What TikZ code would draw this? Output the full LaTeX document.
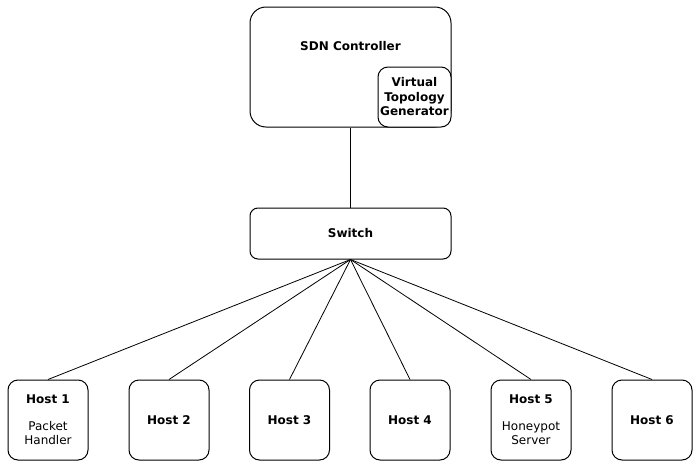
\documentclass[tikz,border=0pt]{standalone}
\usepackage{fontspec}
\setmainfont{DejaVu Sans}
\usetikzlibrary{positioning}

\begin{document}
\begin{tikzpicture}[
  x=1pt,y=-1pt,
  box/.style={draw,line width=1pt,rounded corners=8pt,fill=white,align=center,font=\fontsize{12}{14.5}\selectfont,inner sep=0pt},
  hostbox/.style={box,minimum width=80pt,minimum height=80pt,rounded corners=10pt},
  link/.style={line width=0.8pt}]
  \useasboundingbox (0,0) rectangle (694,461);
  \node[box,minimum width=201pt,minimum height=120pt,rounded corners=16pt] (ctrl) at (350.5,67) {};
  \node[font=\fontsize{12}{14.5}\selectfont\bfseries] (ctrltitle) at (350.5,46) {SDN Controller};
  \node[box,minimum width=73pt,minimum height=60pt,rounded corners=10pt,font=\fontsize{12}{14.5}\selectfont\bfseries] (vtg) at (414.5,97) {Virtual\\Topology\\Generator};
  \node[box,minimum width=201pt,minimum height=51pt,font=\fontsize{12}{14.5}\selectfont\bfseries] (switch) at (350.5,233.5) {Switch};
  \node[hostbox] (host1) at (48,420) {\textbf{Host 1}\\[12pt]Packet\\Handler};
  \node[hostbox] (host2) at (169,420) {\textbf{Host 2}};
  \node[hostbox] (host3) at (289.5,420) {\textbf{Host 3}};
  \node[hostbox] (host4) at (410,420) {\textbf{Host 4}};
  \node[hostbox] (host5) at (531,420) {\textbf{Host 5}\\[12pt]Honeypot\\Server};
  \node[hostbox] (host6) at (652,420) {\textbf{Host 6}};
  \draw[link] (ctrl) -- (switch);
  \draw[link] (switch.south) -- (host1.north);
  \draw[link] (switch.south) -- (host2.north);
  \draw[link] (switch.south) -- (host3.north);
  \draw[link] (switch.south) -- (host4.north);
  \draw[link] (switch.south) -- (host5.north);
  \draw[link] (switch.south) -- (host6.north);
\end{tikzpicture}
\end{document}
